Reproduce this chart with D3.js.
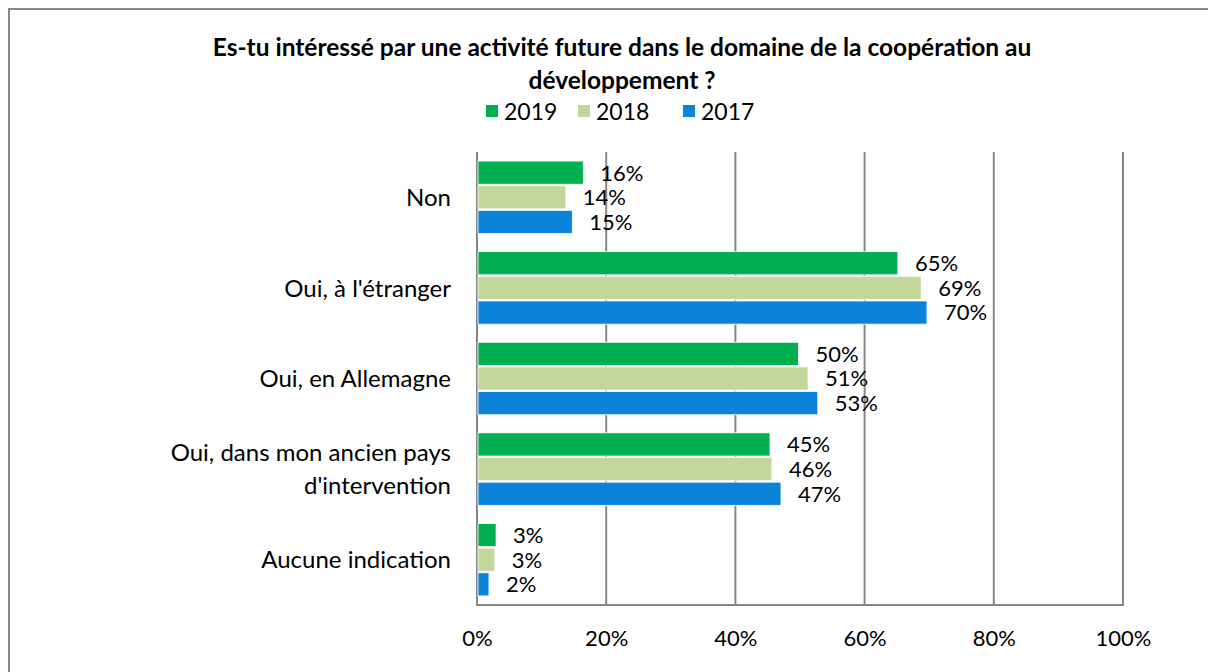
<!DOCTYPE html>
<html lang="fr">
<head>
<meta charset="UTF-8">
<title>Coopération au développement</title>
<script src="https://cdn.jsdelivr.net/npm/d3@7"></script>
<style>
  html, body { margin: 0; padding: 0; background: #fff; }
  svg text { font-family: Lato, "Open Sans", sans-serif; fill: #000; }
</style>
</head>
<body>
<svg id="chart" width="1208" height="672"></svg>
<script>
// data
const categories = ["Non", "Oui, à l'étranger", "Oui, en Allemagne", "Oui, dans mon ancien pays d'intervention", "Aucune indication"];
const categoryLines = [["Non"], ["Oui, à l'étranger"], ["Oui, en Allemagne"], ["Oui, dans mon ancien pays", "d'intervention"], ["Aucune indication"]];
const years = ["2019", "2018", "2017"];
const values2019 = [16.3, 65.0, 49.6, 45.2, 2.8];
const values2018 = [13.6, 68.6, 51.1, 45.5, 2.6];
const values2017 = [14.6, 69.5, 52.6, 46.9, 1.7];
const xTicks = [0, 20, 40, 60, 80, 100];
const colors = ["#00B050", "#C4D79B", "#0B83D9"];

const series = [values2019, values2018, values2017];
const svg = d3.select("#chart");

// outer frame
svg.append("path")
  .attr("d", "M9,672V9H1208")
  .attr("fill", "none").attr("stroke", "#888").attr("stroke-width", 2);

// title
const title = svg.append("text")
  .attr("text-anchor", "middle")
  .attr("font-weight", "bold")
  .attr("font-size", 24.5);
title.append("tspan").attr("x", 622).attr("y", 56).text("Es-tu intéressé par une activité future dans le domaine de la coopération au");
title.append("tspan").attr("x", 622).attr("y", 89).text("développement ?");

// legend
const legendX = [486, 578, 683];
const legend = svg.append("g");
years.forEach((y, i) => {
  legend.append("rect")
    .attr("x", legendX[i]).attr("y", 105).attr("width", 12).attr("height", 12)
    .attr("fill", colors[i]);
  legend.append("text")
    .attr("x", legendX[i] + 18).attr("y", 120)
    .attr("font-size", 23).text(y);
});

// scales
const margin = { left: 477, right: 1123, top: 152, bottom: 605 };
const x = d3.scaleLinear().domain([0, 100]).range([margin.left, margin.right]);
const y0 = d3.scaleBand().domain(categories).range([margin.top, margin.bottom]).paddingInner(0.2).paddingOuter(0.1);
const y1 = d3.scaleBand().domain(years).range([0, y0.bandwidth()]).paddingInner(0.06);

// gridlines
svg.append("g")
  .selectAll("line").data(xTicks).join("line")
  .attr("x1", d => x(d)).attr("x2", d => x(d))
  .attr("y1", margin.top).attr("y2", margin.bottom)
  .attr("stroke", "#868686").attr("stroke-width", 2);

// bottom axis line
svg.append("line")
  .attr("x1", margin.left - 1).attr("x2", margin.right + 1)
  .attr("y1", margin.bottom).attr("y2", margin.bottom)
  .attr("stroke", "#868686").attr("stroke-width", 2);

// x tick labels
const xAxis = d3.axisBottom(x).tickValues(xTicks).tickFormat(d => d + "%").tickSize(0).tickPadding(25);
const gx = svg.append("g").attr("transform", `translate(0,${margin.bottom})`).call(xAxis);
gx.select(".domain").remove();
gx.selectAll("text").attr("font-size", 22).attr("font-family", "Lato, 'Open Sans', sans-serif").attr("fill", "#000");

// bars
const groups = svg.append("g").selectAll("g").data(categories).join("g")
  .attr("transform", c => `translate(0,${y0(c)})`);

groups.each(function (c, ci) {
  const g = d3.select(this);
  years.forEach((yr, si) => {
    const v = series[si][ci];
    g.append("rect")
      .attr("x", x(0) + 1).attr("y", y1(yr))
      .attr("width", x(v) - x(0)).attr("height", y1.bandwidth())
      .attr("fill", colors[si])
      .attr("stroke", "#fff").attr("stroke-width", 0.8);
    g.append("text")
      .attr("x", x(v) + 18).attr("y", y1(yr) + y1.bandwidth() / 2)
      .attr("dy", "0.36em")
      .attr("font-size", 22)
      .text(Math.round(v) + "%");
  });
});

// category labels
svg.append("g").selectAll("text").data(categories).join("text")
  .attr("text-anchor", "end")
  .attr("font-size", 24)
  .each(function (c, i) {
    const lines = categoryLines[i];
    const cy = y0(c) + y0.bandwidth() / 2;
    const lh = 33;
    const t = d3.select(this);
    lines.forEach((l, k) => {
      t.append("tspan")
        .attr("x", 451)
        .attr("y", cy + (k - (lines.length - 1) / 2) * lh)
        .attr("dy", "0.36em")
        .text(l);
    });
  });
</script>
</body>
</html>
